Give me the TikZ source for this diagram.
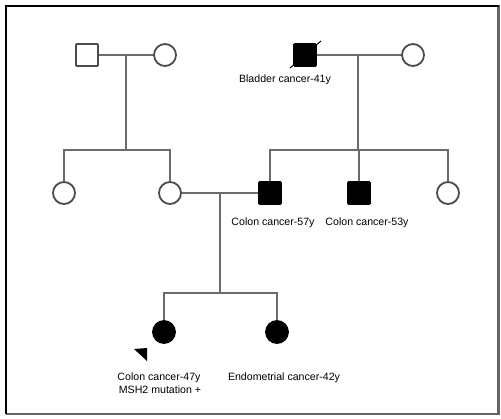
\documentclass[tikz,border=0pt]{standalone}
\usepackage{fontspec}
\setmainfont{Liberation Sans}
\begin{document}
\begin{tikzpicture}[x=1pt,y=-1pt,
 line/.style={draw=black!58, line width=1.8pt},
 sym/.style={draw=black!70, line width=1.8pt, inner sep=0pt, minimum size=22pt, fill=white},
 male/.style={sym, rectangle, rounded corners=1pt},
 female/.style={sym, circle},
 aff/.style={fill=black, draw=black},
 lab/.style={font=\fontsize{10.6}{11}\selectfont, inner sep=0pt, text=black}]
\useasboundingbox (0,0) rectangle (501,418);
\fill[white] (0,0) rectangle (501,418);
% frame
\draw[black!60, line width=2.5pt] (6,6) -- (498.5,6) -- (498.5,414) -- (6,414);
\draw[black, line width=2.5pt] (6,414) -- (6,6) -- (498.5,6);
% generation I
\node[male] (s1) at (87,55) {};
\node[female] (c1) at (165,55) {};
\node[male, aff] (s2) at (305,55) {};
\node[female] (c2) at (413,55) {};
% generation II
\node[female] (c3) at (64,193) {};
\node[female] (c4) at (170,193) {};
\node[male, aff] (s3) at (270,193) {};
\node[male, aff] (s4) at (359,193) {};
\node[female] (c5) at (448,193) {};
% generation III
\node[female, aff] (c6) at (164,332) {};
\node[female, aff] (c7) at (277,332) {};
% junction coordinates
\coordinate (m1) at (126,55);
\coordinate (j1) at (126,150);
\coordinate (m2) at (358,55);
\coordinate (j2) at (358,150);
\coordinate (m3) at (220,193);
\coordinate (j3) at (220,293);
% connectors
\draw[line] (s1.east) -- (c1.west);
\draw[line] (m1) -- (j1);
\draw[line] (c3.north) -- (c3.north |- j1) -- (c4.north |- j1) -- (c4.north);
\draw[line] (s2.east) -- (c2.west);
\draw[line] (m2) -- (j2);
\draw[line] (s3.north) -- (s3.north |- j2) -- (c5.north |- j2) -- (c5.north);
\draw[line] (s4.north) -- (s4.north |- j2);
\draw[line] (c4.east) -- (s3.west);
\draw[line] (m3) -- (j3);
\draw[line] (c6.north) -- (c6.north |- j3) -- (c7.north |- j3) -- (c7.north);
% deceased slash
\draw[black, line width=1pt] ([shift={(-15,13)}]s2.center) -- ([shift={(16,-14)}]s2.center);
% proband arrowhead
\fill[black] (134,349) -- (147,348) -- (147,361) -- cycle;
% labels
\node[lab] (l1) at (285,80) {Bladder cancer-41y};
\node[lab] (l2) at (273,223) {Colon cancer-57y};
\node[lab] (l3) at (367,223) {Colon cancer-53y};
\node[lab] (l4) at (159,378) {Colon cancer-47y};
\node[lab] (l5) at (160,390) {MSH2 mutation +};
\node[lab] (l6) at (284,378) {Endometrial cancer-42y};
\end{tikzpicture}
\end{document}
